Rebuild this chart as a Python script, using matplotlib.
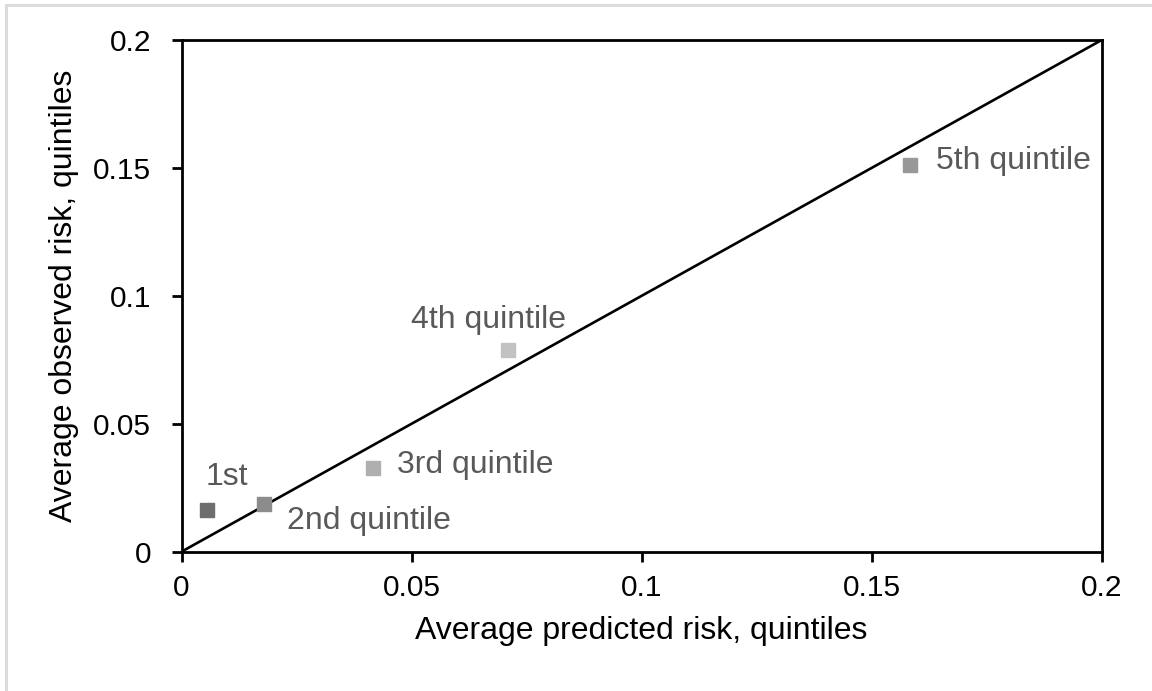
import matplotlib.pyplot as plt
from matplotlib.lines import Line2D

plt.rcParams["font.family"] = ["Liberation Sans", "DejaVu Sans"]

# ── Données ───────────────────────────────────────────────────────────────────
labels = ["1st", "2nd quintile", "3rd quintile", "4th quintile", "5th quintile"]
predicted = [0.0055, 0.0180, 0.0416, 0.0709, 0.1584]
observed = [0.0163, 0.0188, 0.0327, 0.0788, 0.1513]
colors = ["#6e6e6e", "#8c8c8c", "#afafaf", "#c2c2c2", "#989898"]

# décalages des étiquettes (pixels) et alignement horizontal
offsets = [(-1, 25), (23, -25), (24, -5), (-19, 22), (26, -4)]
aligns = ["left", "left", "left", "center", "left"]

ticks = [0, 0.05, 0.1, 0.15, 0.2]
tick_labels = ["0", "0.05", "0.1", "0.15", "0.2"]

fig = plt.figure(figsize=(11.52, 6.91), dpi=100)
ax = fig.add_axes([181.5 / 1152, 1 - 551.7 / 691, 920.2 / 1152, 511.7 / 691])

# diagonale de calibration parfaite
ax.plot([0, 0.2], [0, 0.2], color="black", lw=1.9, zorder=2)

for x, y, c in zip(predicted, observed, colors):
    ax.plot(x, y, marker="s", ms=10.5, color=c, mec=c, ls="none", zorder=3)

for x, y, lab, off, ha in zip(predicted, observed, labels, offsets, aligns):
    ax.annotate(lab, (x, y), xytext=off, textcoords="offset pixels",
                ha=ha, va="baseline", fontsize=23, color="#595959")

ax.set_xlim(0, 0.2)
ax.set_ylim(0, 0.2)
ax.set_xticks(ticks)
ax.set_xticklabels(tick_labels)
ax.set_yticks(ticks)
ax.set_yticklabels(tick_labels)

for sp in ax.spines.values():
    sp.set_linewidth(2.0)
ax.tick_params(axis="both", direction="out", length=7, width=2.0, labelsize=21.5)
ax.tick_params(axis="x", pad=9)
ax.tick_params(axis="y", pad=15)

ax.set_xlabel("Average predicted risk, quintiles", fontsize=23, labelpad=10)
ax.set_ylabel("Average observed risk, quintiles", fontsize=23, labelpad=10)

# cadre gris (capture d'écran) en haut et à gauche
fig.add_artist(Line2D([5.5 / 1152, 5.5 / 1152], [0, 1 - 4.5 / 691],
                      color="#dcdcdc", lw=2.2, transform=fig.transFigure))
fig.add_artist(Line2D([5.5 / 1152, 1], [1 - 4.5 / 691, 1 - 4.5 / 691],
                      color="#dcdcdc", lw=2.2, transform=fig.transFigure))

fig.savefig("out.png", dpi=100)
